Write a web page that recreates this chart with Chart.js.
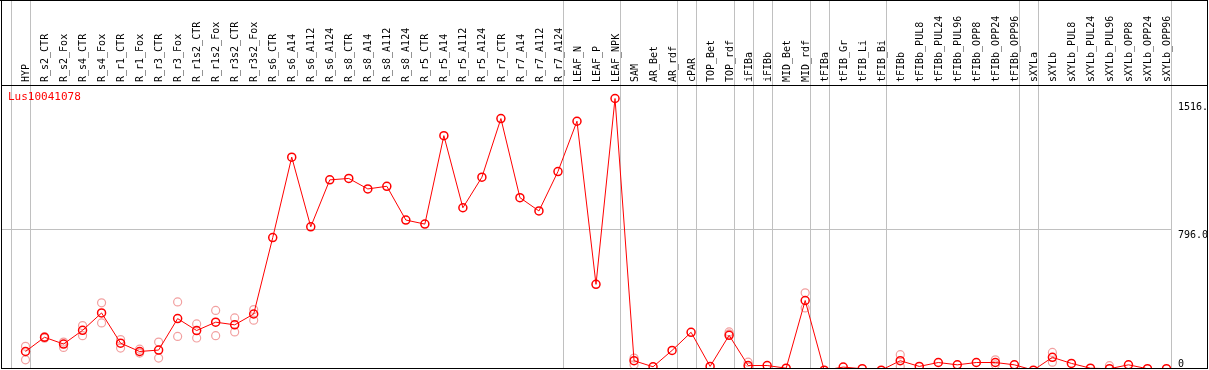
<!DOCTYPE html>
<html>
<head>
  <meta charset="UTF-8">
  <title>Lus10041078</title>
  <script src="https://cdn.jsdelivr.net/npm/chart.js"></script>
  <style>
    html, body {
      margin: 0;
      background: #fff;
      overflow: hidden;
    }
    #chart {
      display: block;
    }
  </style>
</head>
<body>
  <!-- un peu plus haut que la fenêtre : le bas de la zone tombe sur le cadre -->
  <canvas id="chart" width="1209" height="376"></canvas>

  <script>
    const geneName = 'Lus10041078';

    const samples = [
      'HYP', 'R_s2_CTR', 'R_s2_Fox', 'R_s4_CTR', 'R_s4_Fox', 'R_r1_CTR', 'R_r1_Fox',
      'R_r3_CTR', 'R_r3_Fox', 'R_r1s2_CTR', 'R_r1s2_Fox', 'R_r3s2_CTR', 'R_r3s2_Fox',
      'R_s6_CTR', 'R_s6_A14', 'R_s6_A112', 'R_s6_A124', 'R_s8_CTR', 'R_s8_A14',
      'R_s8_A112', 'R_s8_A124', 'R_r5_CTR', 'R_r5_A14', 'R_r5_A112', 'R_r5_A124',
      'R_r7_CTR', 'R_r7_A14', 'R_r7_A112', 'R_r7_A124', 'LEAF_N', 'LEAF_P', 'LEAF_NPK',
      'SAM', 'AR_Bet', 'AR_rdf', 'cPAR', 'TOP_Bet', 'TOP_rdf', 'iFIBa', 'iFIBb',
      'MID_Bet', 'MID_rdf', 'tFIBa', 'tFIB_Gr', 'tFIB_Li', 'tFIB_Bi', 'tFIBb',
      'tFIBb_PUL8', 'tFIBb_PUL24', 'tFIBb_PUL96', 'tFIBb_OPP8', 'tFIBb_OPP24', 'tFIBb_OPP96',
      'sXYLa', 'sXYLb', 'sXYLb_PUL8', 'sXYLb_PUL24', 'sXYLb_PUL96', 'sXYLb_OPP8',
      'sXYLb_OPP24', 'sXYLb_OPP96'
    ];

    // moyenne par échantillon
    const meanValues = [
      107, 187, 149, 226, 324, 154, 107, 115, 292, 225, 272, 257, 318,
      748, 1201, 809, 1073, 1081, 1022, 1037, 847, 824, 1322, 916, 1088,
      1418, 973, 898, 1120, 1403, 485, 1531,
      55, 21, 113, 215, 23, 198, 28, 28, 13, 394, 2, 19, 10, 2,
      55, 23, 45, 32, 45, 45, 32,
      2, 74, 40, 13, 10, 32, 10, 10
    ];

    // réplicats (null = confondu avec la moyenne)
    const repA = [
      136, 190, 160, 253, 381, 174, 120, 160, 386, 262, 338, 296, 343,
      null, null, null, null, null, null, null, null, null, null, null, null,
      null, null, null, null, null, null, null,
      70, null, null, null, null, 217, 47, null, null, 437, null, null, null, null,
      89, null, null, null, null, 60, null,
      null, 102, null, null, 27, null, null, null
    ];
    const repB = [
      60, 182, 130, 196, 268, 126, 98, 70, 192, 183, 196, 217, 283,
      null, null, null, null, null, null, null, null, null, null, null, null,
      null, null, null, null, null, null, null,
      32, null, null, null, null, 206, 19, null, null, 352, null, null, null, null,
      23, null, null, null, null, 32, null,
      null, 47, null, null, null, null, null, null
    ];

    const yTicks = [0, 796, 1516];
    const yTickText = { 0: ['0', ''], 796: ['', '796.0'], 1516: ['', '1516.'] };

    // séparateurs de groupes : après ces indices
    const groupEnds = [-1, 0, 28, 31, 34, 35, 37, 38, 39, 41, 42, 45, 52, 53, 60];

    const monoFont = { family: 'DejaVu Sans Mono', size: 10 };

    const framePlugin = {
      id: 'frame',
      beforeDatasetsDraw(chart) {
        const ctx = chart.ctx;
        const x = chart.scales.x;
        const y = chart.scales.y;
        const step = x.getPixelForValue(1) - x.getPixelForValue(0);
        ctx.save();
        ctx.fillStyle = '#c0c0c0';
        // ligne horizontale à 796 sur toute la largeur
        const last = Math.round(x.getPixelForValue(60) + step / 4);
        ctx.fillRect(1, Math.round(y.getPixelForValue(796)), last, 1);
        groupEnds.forEach(i => {
          const px = Math.round(x.getPixelForValue(i) + step / 4);
          ctx.fillRect(px, 0, 1, 369);
        });
        ctx.restore();
      },
      afterDraw(chart) {
        const ctx = chart.ctx;
        ctx.save();
        ctx.fillStyle = '#fff';
        ctx.fillRect(0, 369, 1209, 10);
        ctx.fillStyle = '#000';
        ctx.fillRect(0, 0, 1208, 1);
        ctx.fillRect(1, 0, 1, 369);
        ctx.fillRect(1207, 0, 1, 369);
        ctx.fillRect(1, 368, 1207, 1);
        ctx.fillRect(1, 85, 1207, 1);
        ctx.fillStyle = '#ff0000';
        ctx.font = '11px "DejaVu Sans Mono"';
        ctx.textBaseline = 'middle';
        ctx.fillText(geneName, 8, 97);
        ctx.restore();
      }
    };

    const ctx = document.getElementById('chart').getContext('2d');
    new Chart(ctx, {
      type: 'line',
      data: {
        labels: samples,
        datasets: [{
          label: geneName,
          data: meanValues,
          borderColor: '#ff0000',
          borderWidth: 1,
          pointStyle: 'circle',
          pointRadius: 4,
          pointBorderWidth: 1.5,
          pointBorderColor: '#ff0000',
          pointBackgroundColor: 'rgba(255,255,255,0)',
          tension: 0
        }, {
          label: 'rep A',
          data: repA,
          showLine: false,
          pointRadius: 4,
          pointBorderWidth: 1.2,
          pointBorderColor: '#f2a0a0',
          pointBackgroundColor: 'rgba(255,255,255,0)'
        }, {
          label: 'rep B',
          data: repB,
          showLine: false,
          pointRadius: 4,
          pointBorderWidth: 1.2,
          pointBorderColor: '#f2a0a0',
          pointBackgroundColor: 'rgba(255,255,255,0)'
        }]
      },
      options: {
        responsive: false,
        animation: false,
        layout: { padding: { left: 16, right: 0, top: 0, bottom: 1 } },
        plugins: {
          legend: { display: false },
          tooltip: { enabled: false }
        },
        scales: {
          x: {
            position: 'top',
            offset: true,
            grid: { display: false, drawTicks: false },
            border: { display: false },
            ticks: {
              autoSkip: false,
              minRotation: 90,
              maxRotation: 90,
              padding: 3,
              labelOffset: 13,
              color: '#000',
              font: monoFont
            },
            afterFit(scale) {
              scale.height = 85;
              scale.paddingLeft = 0;
              scale.paddingRight = 0;
            }
          },
          y: {
            position: 'right',
            min: 0,
            max: 1607,
            border: { display: false },
            grid: { display: false, drawTicks: false },
            afterBuildTicks(scale) {
              scale.ticks = yTicks.map(v => ({ value: v }));
            },
            ticks: {
              padding: 2,
              color: '#000',
              font: monoFont,
              callback: v => yTickText[v] || ''
            },
            afterFit(scale) {
              scale.width = 33;
              scale.paddingTop = 0;
              scale.paddingBottom = 0;
            }
          }
        }
      },
      plugins: [framePlugin]
    });
  </script>
</body>
</html>
